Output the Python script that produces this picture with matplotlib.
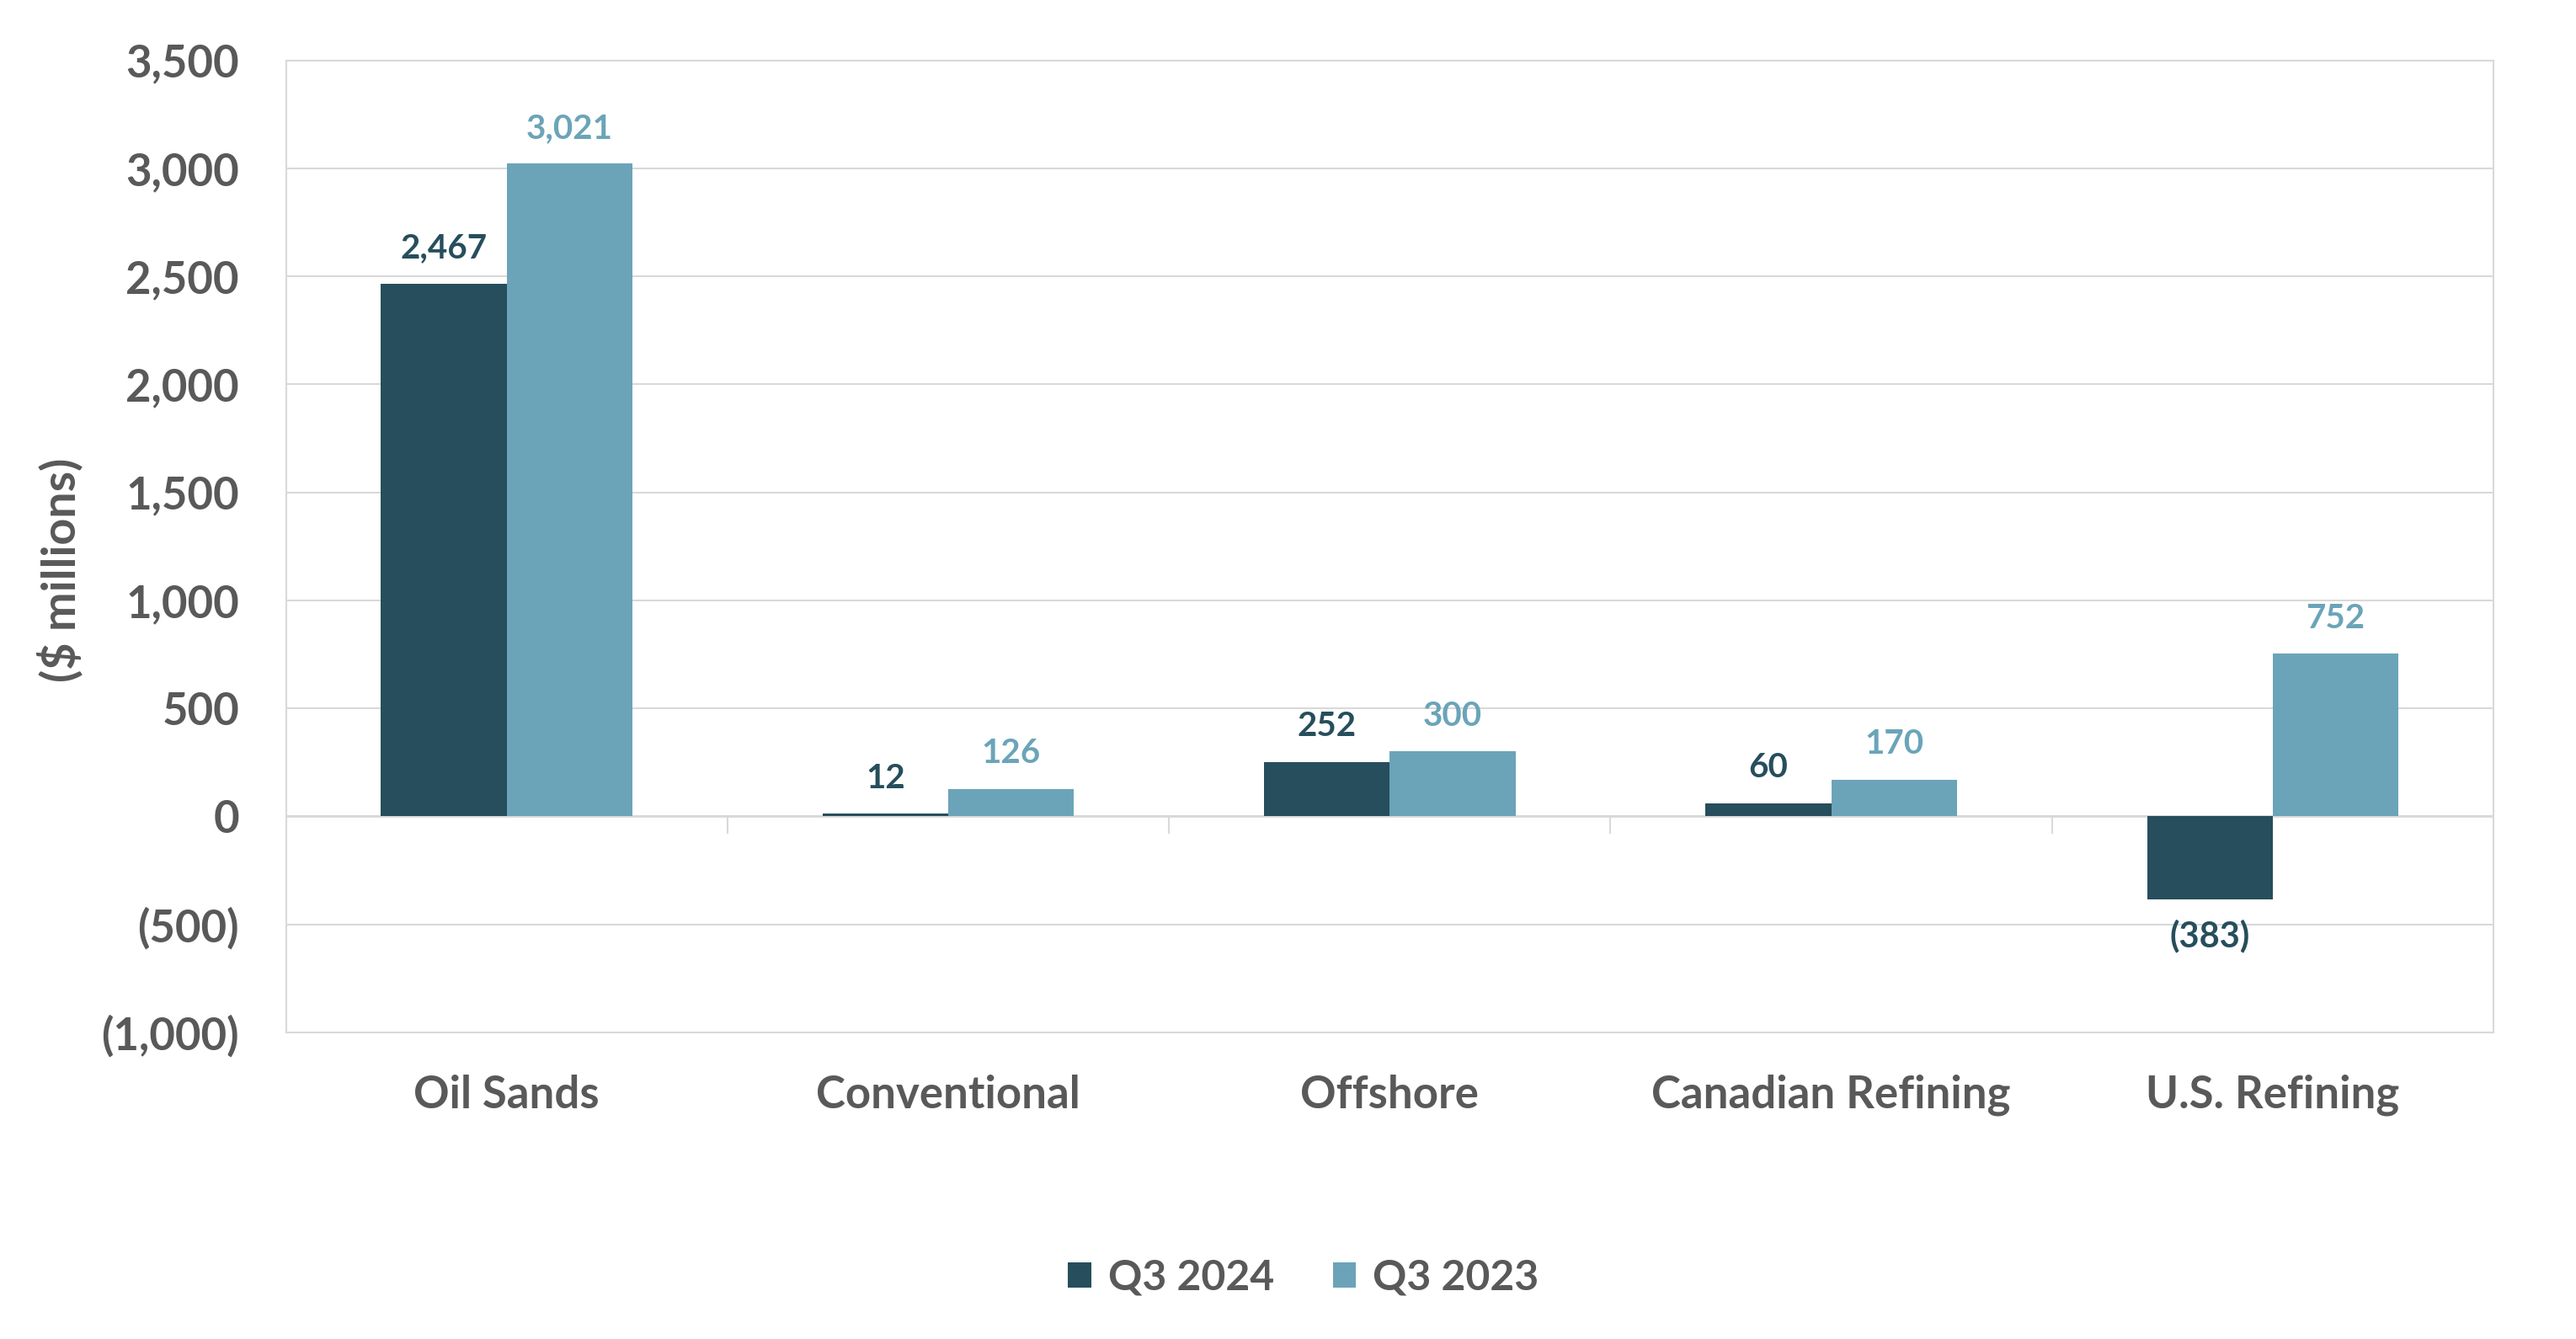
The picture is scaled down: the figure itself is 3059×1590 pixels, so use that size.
'''
Segment comparison bar chart, Q3 2024 vs Q3 2023 ($ millions).
'''
import matplotlib
matplotlib.use("Agg")
import matplotlib.pyplot as plt
import numpy as np

# Data
categories = ["Oil Sands", "Conventional", "Offshore", "Canadian Refining", "U.S. Refining"]
q3_2024 = [2467, 12, 252, 60, -383]
q3_2023 = [3021, 126, 300, 170, 752]
series_names = ["Q3 2024", "Q3 2023"]
y_ticks = [-1000, -500, 0, 500, 1000, 1500, 2000, 2500, 3000, 3500]

# Style
dark = "#264e5c"
light = "#6ba4b8"
gray_txt = "#595959"
grid_col = "#d9d9d9"
plt.rcParams['font.family'] = ['Lato', 'DejaVu Sans']
plt.rcParams['font.weight'] = 'bold'

def fmt(v):
    # accounting style: negatives in brackets
    if v < 0:
        return "({:,})".format(-v)
    return "{:,}".format(v)

fig = plt.figure(figsize=(30.59, 15.90), dpi=100)
ax = fig.add_axes([0.111, 0.229, 0.857, 0.726])

x = np.arange(len(categories))
w = 0.285
b1 = ax.bar(x - w/2, q3_2024, w, color=dark, label=series_names[0], zorder=3)
b2 = ax.bar(x + w/2, q3_2023, w, color=light, label=series_names[1], zorder=3)

# data labels
for bars, vals, col in [(b1, q3_2024, dark), (b2, q3_2023, light)]:
    for r, v in zip(bars, vals):
        cx = r.get_x() + r.get_width()/2
        if v >= 0:
            ax.annotate(fmt(v), (cx, v), xytext=(0, 17), textcoords="offset points",
                        ha="center", va="bottom", fontsize=29, color=col, fontweight="bold")
        else:
            ax.annotate(fmt(v), (cx, v), xytext=(0, -17), textcoords="offset points",
                        ha="center", va="top", fontsize=30, color=col, fontweight="bold")

ax.set_xlim(-0.5, len(categories) - 0.5)
ax.set_ylim(y_ticks[0], y_ticks[-1])
ax.set_yticks(y_ticks)
ax.set_yticklabels([fmt(t) for t in y_ticks], fontsize=38, color=gray_txt, fontweight="bold")
ax.set_xticks(x)
ax.set_xticklabels(categories, fontsize=38, color=gray_txt, fontweight="bold")
ax.tick_params(axis="y", length=0, pad=40)
ax.tick_params(axis="x", length=0, pad=36)
ax.set_ylabel("($ millions)", fontsize=40, color=gray_txt, fontweight="bold")
ax.yaxis.set_label_coords(-0.092, 0.476)

ax.grid(axis="y", color=grid_col, linewidth=1.5, zorder=0)
ax.axhline(0, color=grid_col, linewidth=2, zorder=2)
# category tick marks hanging below zero line
ax.vlines(x[:-1] + 0.5, -80, 0, color=grid_col, linewidth=1.5, zorder=2)
for s in ax.spines.values():
    s.set_color(grid_col)
    s.set_linewidth(1.5)

leg = fig.legend(loc="center", bbox_to_anchor=(0.506, 0.046), ncol=2, frameon=False,
                 fontsize=36, handlelength=0.55, handleheight=0.55, handletextpad=0.4,
                 columnspacing=1.4)
for t in leg.get_texts():
    t.set_color(gray_txt)

fig.savefig("out.png", dpi=100, facecolor="white")
